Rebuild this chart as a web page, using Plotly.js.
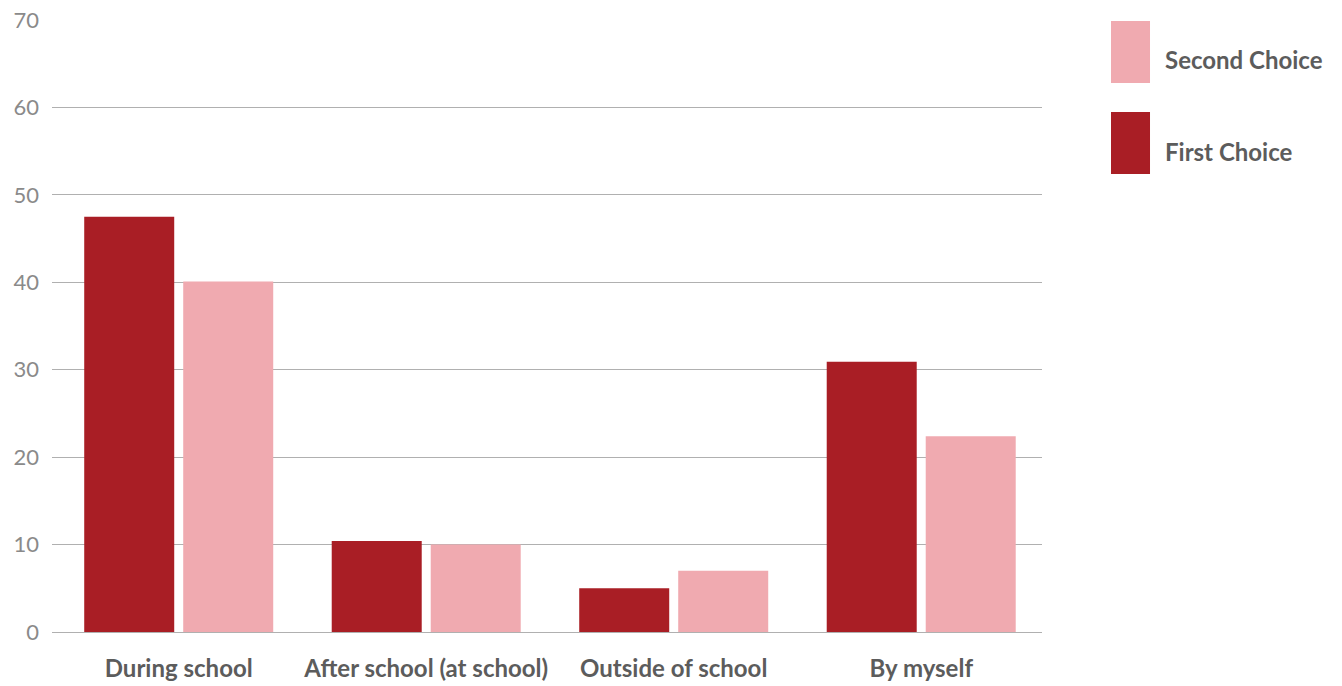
<!DOCTYPE html>
<html>
<head>
<meta charset="utf-8">
<script src="https://cdn.plot.ly/plotly-3.0.1.min.js"></script>
<style>html,body{margin:0;padding:0;background:#fff;}#chart{width:1342px;height:686px;}</style>
</head>
<body>
<div id="chart"></div>
<script>
const categories = ["During school", "After school (at school)", "Outside of school", "By myself"];
const firstChoice = [47.5, 10.4, 5.0, 30.9];
const secondChoice = [40.1, 10.0, 7.0, 22.4];
const seriesNames = ["First Choice", "Second Choice"];
const seriesColors = ["#A91E25", "#F0AAB0"];

const FONT = "Lato, 'Open Sans', sans-serif";

const traces = [
  {type: "bar", name: seriesNames[0], x: categories, y: firstChoice, marker: {color: seriesColors[0]}, hoverinfo: "x+y"},
  {type: "bar", name: seriesNames[1], x: categories, y: secondChoice, marker: {color: seriesColors[1]}, hoverinfo: "x+y"}
];

// legend drawn manually (large swatches)
const legendItems = [
  {name: seriesNames[1], color: seriesColors[1], y0: 0.8971, y1: 0.9984, ty: 0.935},
  {name: seriesNames[0], color: seriesColors[0], y0: 0.7484, y1: 0.8497, ty: 0.7845}
];
const shapes = legendItems.map(it => ({
  type: "rect", xref: "paper", yref: "paper", x0: 1.0697, x1: 1.1091, y0: it.y0, y1: it.y1,
  fillcolor: it.color, line: {width: 0}
}));
const annotations = legendItems.map(it => ({
  xref: "paper", yref: "paper", x: 1.1222, y: it.ty, xanchor: "left", yanchor: "middle",
  text: "<b>" + it.name + "</b>", showarrow: false,
  font: {family: FONT, size: 24, color: "#5c5c5c"}
}));

const layout = {
  width: 1342, height: 686,
  margin: {l: 52, r: 300, t: 20, b: 54},
  paper_bgcolor: "#fff", plot_bgcolor: "#fff",
  barmode: "group", bargap: 0.2, bargroupgap: 0.091,
  showlegend: false,
  font: {family: FONT},
  xaxis: {
    type: "category", range: [-0.512, 3.488],
    showgrid: false, zeroline: false, showline: false,
    tickfont: {family: FONT, size: 24, color: "#5c5c5c", weight: "bold"},
    ticks: "", ticklabelstandoff: 20
  },
  yaxis: {
    range: [0, 70], dtick: 10, tick0: 0,
    showgrid: true, gridcolor: "#b0b0b0", gridwidth: 1,
    zeroline: true, zerolinecolor: "#b0b0b0", zerolinewidth: 1,
    showline: false, ticks: "",
    tickfont: {family: FONT, size: 22, color: "#8a8a8a"},
    ticklabelstandoff: 12
  },
  shapes: shapes,
  annotations: annotations
};

Plotly.newPlot("chart", traces, layout, {displayModeBar: false, staticPlot: true});
</script>
</body>
</html>
